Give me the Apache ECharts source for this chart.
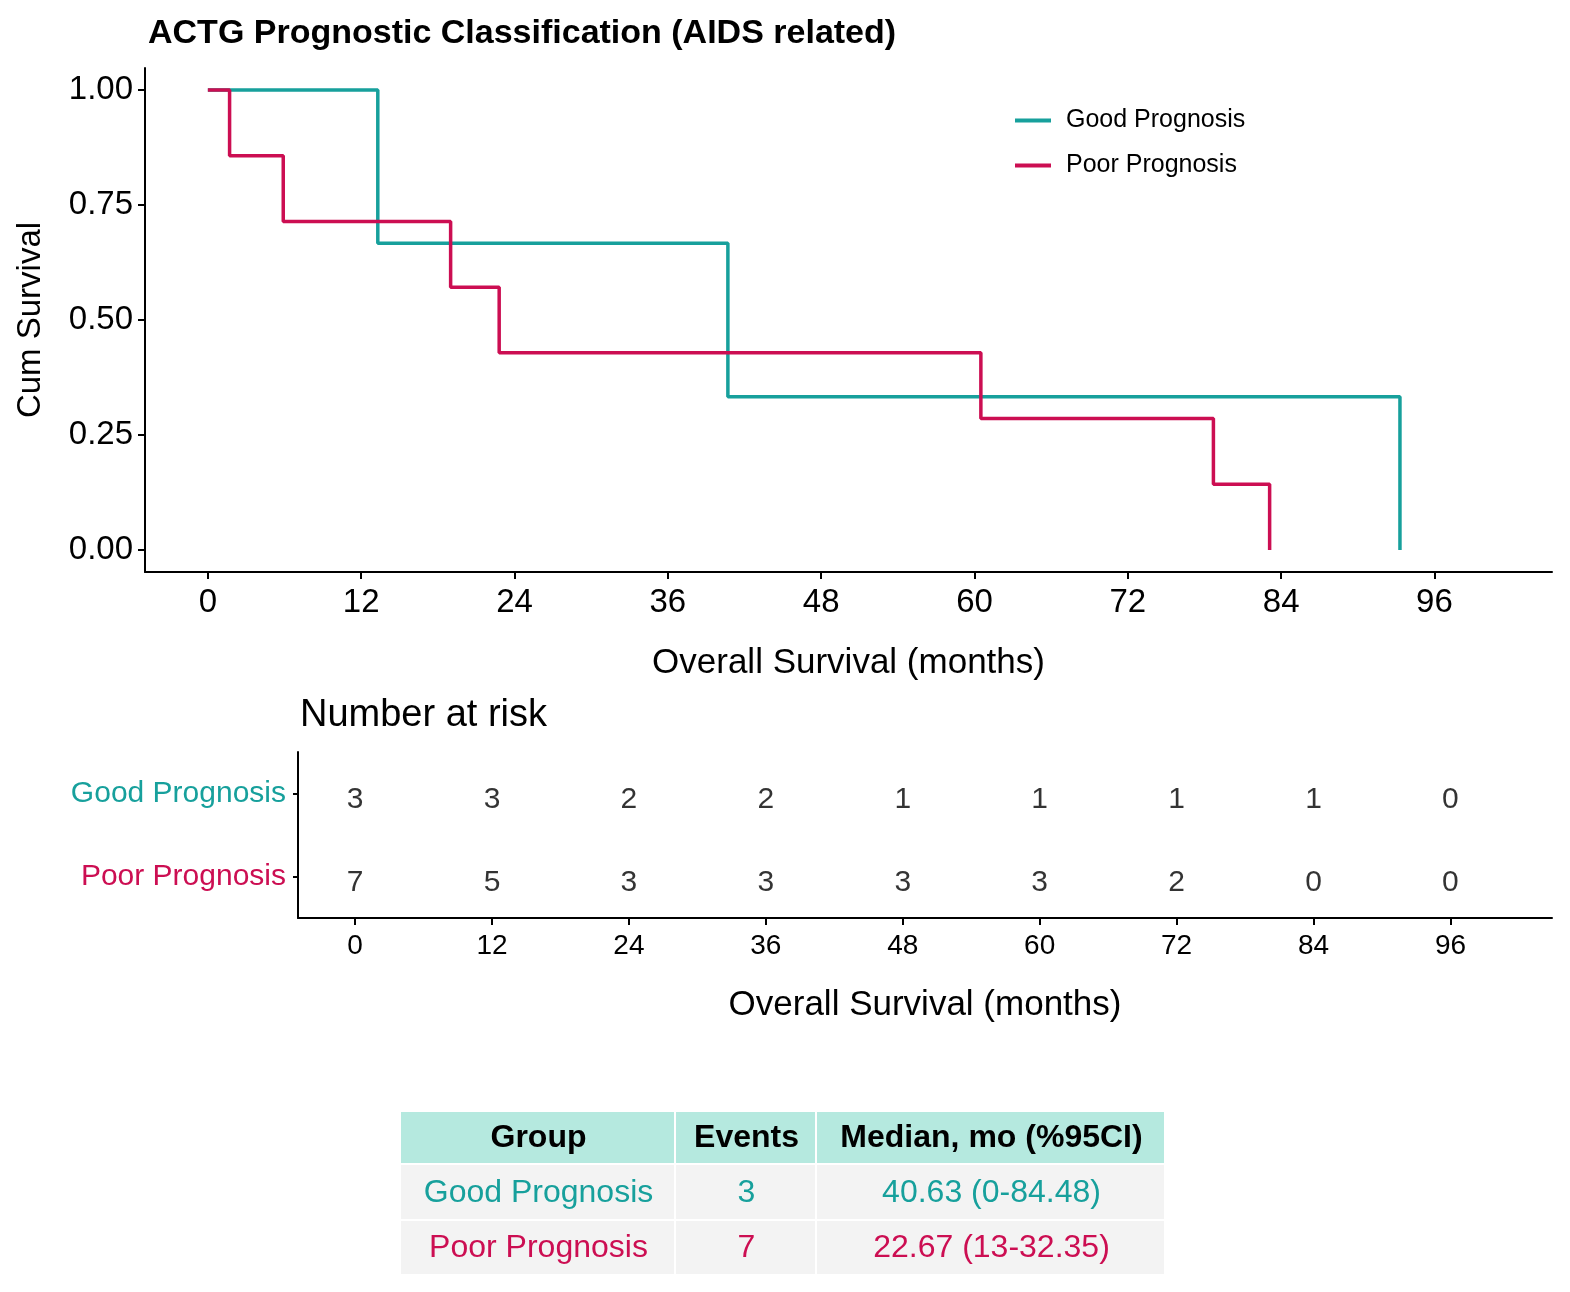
<!DOCTYPE html>
<html>
<head>
<meta charset="UTF-8">
<script src="https://cdn.jsdelivr.net/npm/echarts@6/dist/echarts.min.js"></script>
<style>
  html, body { margin: 0; padding: 0; background: #fff; }
  #chart { width: 1570px; height: 1292px; }
</style>
</head>
<body>
<div id="chart"></div>
<script>
var groups = ['Good Prognosis', 'Poor Prognosis'];
var colors = ['#17a09c', '#cc0e52'];
// step points [month, survival]
var goodSteps = [[0, 1], [13.3, 1], [13.3, 0.667], [40.7, 0.667], [40.7, 0.333], [93.3, 0.333], [93.3, 0]];
var poorSteps = [[0, 1], [1.7, 1], [1.7, 0.857], [5.9, 0.857], [5.9, 0.714], [19.0, 0.714], [19.0, 0.571],
  [22.8, 0.571], [22.8, 0.429], [60.5, 0.429], [60.5, 0.286], [78.7, 0.286], [78.7, 0.143], [83.1, 0.143], [83.1, 0]];
var riskTimes = [0, 12, 24, 36, 48, 60, 72, 84, 96];
var survTicks = [0, 0.25, 0.5, 0.75, 1];
var goodRisk = [3, 3, 2, 2, 1, 1, 1, 1, 0];
var poorRisk = [7, 5, 3, 3, 3, 3, 2, 0, 0];
var tableHead = ['Group', 'Events', 'Median, mo (%95CI)'];
var tableRows = [['Good Prognosis', '3', '40.63 (0-84.48)'], ['Poor Prognosis', '7', '22.67 (13-32.35)']];

var font = 'Liberation Sans, Arial, sans-serif';
var chart = echarts.init(document.getElementById('chart'));

function riskData(vals, g) {
  return riskTimes.map(function (t, i) { return [t, g, vals[i]]; });
}
function ticks(vals, len) {
  return { show: true, length: len, customValues: vals, lineStyle: { color: '#000', width: 2 } };
}

// table graphic
var colX = [401, 676, 817, 1166];
var rowY = [1112, 1165, 1221, 1276];
var graphic = [];
for (var r = 0; r < 3; r++) {
  for (var c = 0; c < 3; c++) {
    var txt = r === 0 ? tableHead[c] : tableRows[r - 1][c];
    graphic.push({
      type: 'rect',
      shape: { x: colX[c], y: rowY[r], width: colX[c + 1] - colX[c] - 2, height: rowY[r + 1] - rowY[r] - 2 },
      style: { fill: r === 0 ? '#b5e9df' : '#f3f3f3' }
    });
    graphic.push({
      type: 'text',
      x: (colX[c] + colX[c + 1]) / 2, y: (rowY[r] + rowY[r + 1]) / 2,
      style: {
        text: txt, align: 'center', verticalAlign: 'middle', font: (r === 0 ? 'bold ' : '') + '32px ' + font,
        fill: r === 0 ? '#000' : colors[r - 1]
      }
    });
  }
}
graphic.push({ type: 'text', x: 300, y: 716, style: { text: 'Number at risk', font: '38px ' + font, fill: '#000', verticalAlign: 'middle' } });

var line = { show: true, onZero: false, lineStyle: { color: '#000', width: 2 } };

chart.setOption({
  animation: false,
  textStyle: { fontFamily: font },
  title: { text: 'ACTG Prognostic Classification (AIDS related)', left: 143, top: 12,
    textStyle: { fontSize: 34, fontWeight: 'bold', color: '#000', fontFamily: font } },
  legend: {
    orient: 'vertical', left: 1010, top: 103, itemGap: 20, itemWidth: 36, itemHeight: 4,
    icon: 'rect', data: groups, textStyle: { fontSize: 25, color: '#000', padding: [0, 0, 0, 10] }
  },
  grid: [
    { left: 145, right: 18, top: 68, height: 504 },
    { left: 298, right: 18, top: 752, height: 166 }
  ],
  xAxis: [
    { type: 'value', gridIndex: 0, min: -4.92, max: 105.2,
      name: 'Overall Survival (months)', nameLocation: 'middle', nameGap: 74,
      nameTextStyle: { fontSize: 35, color: '#000' },
      axisLine: line, axisTick: ticks(riskTimes, 7), splitLine: { show: false },
      axisLabel: { fontSize: 33, color: '#000', margin: 14, customValues: riskTimes } },
    { type: 'value', gridIndex: 1, min: -5, max: 104.9,
      name: 'Overall Survival (months)', nameLocation: 'middle', nameGap: 70,
      nameTextStyle: { fontSize: 35, color: '#000' },
      axisLine: line, axisTick: ticks(riskTimes, 7), splitLine: { show: false },
      axisLabel: { fontSize: 28, color: '#000', margin: 14, customValues: riskTimes } }
  ],
  yAxis: [
    { type: 'value', gridIndex: 0, min: -0.048, max: 1.048,
      name: 'Cum Survival', nameLocation: 'middle', nameGap: 98,
      nameTextStyle: { fontSize: 33, color: '#000' },
      axisLine: line, axisTick: ticks(survTicks, 7), splitLine: { show: false },
      axisLabel: { fontSize: 33, color: '#000', margin: 12, formatter: function (v) { return v.toFixed(2); },
        customValues: survTicks } },
    { type: 'category', gridIndex: 1, data: groups, inverse: true,
      axisLine: line, splitLine: { show: false },
      axisTick: { show: true, length: 5, alignWithLabel: true, lineStyle: { color: '#000', width: 2 } },
      axisLabel: { fontSize: 30, margin: 12, color: function (v) { return colors[groups.indexOf(v)]; } } }
  ],
  series: [
    { name: groups[0], type: 'line', data: goodSteps, symbol: 'none', lineStyle: { color: colors[0], width: 3.5 }, itemStyle: { color: colors[0] } },
    { name: groups[1], type: 'line', data: poorSteps, symbol: 'none', lineStyle: { color: colors[1], width: 3.5 }, itemStyle: { color: colors[1] } },
    { type: 'scatter', xAxisIndex: 1, yAxisIndex: 1, symbolSize: 0, data: riskData(goodRisk, groups[0]).concat(riskData(poorRisk, groups[1])),
      label: { show: true, position: 'inside', offset: [0, 6], fontSize: 30, color: '#000', formatter: function (p) { return p.value[2]; } } }
  ],
  graphic: graphic
});
</script>
</body>
</html>
